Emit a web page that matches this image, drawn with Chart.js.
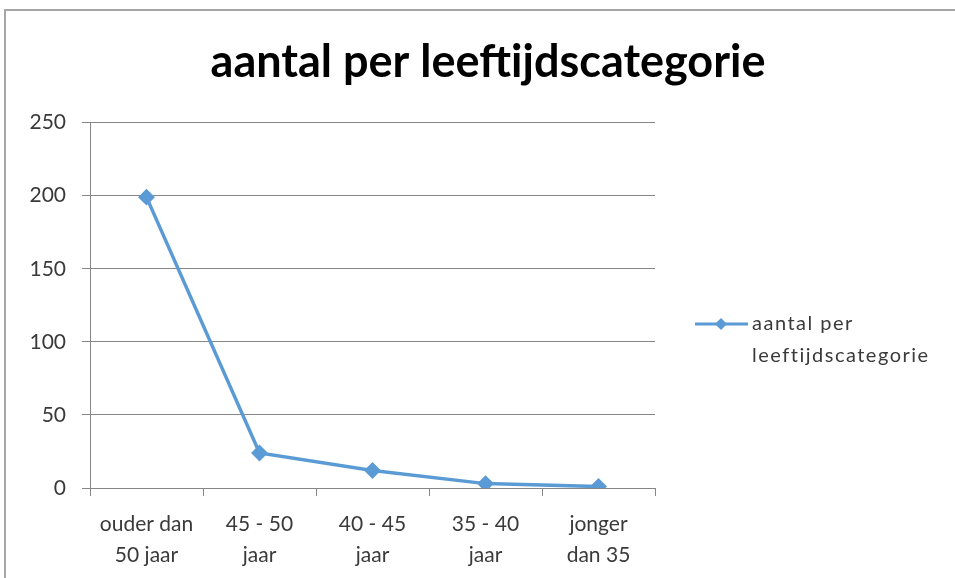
<!DOCTYPE html>
<html>
<head>
<meta charset="utf-8">
<script src="https://cdn.jsdelivr.net/npm/chart.js@4"></script>
<style>
  html, body { margin: 0; padding: 0; background: #fff; }
  #wrap { position: relative; width: 955px; height: 578px; }
  #frame { position: absolute; left: 4px; top: 9px; right: 0; bottom: 0;
           border-top: 2px solid #a6a6a6; border-left: 2px solid #a6a6a6; }
</style>
</head>
<body>
<div id="wrap">
  <div id="frame"></div>
  <canvas id="chart" width="955" height="578"></canvas>
</div>
<script>
// reference chart: line chart, Excel look
const categories = [
  ['ouder dan', '50 jaar'],
  ['45 - 50', 'jaar'],
  ['40 - 45', 'jaar'],
  ['35 - 40', 'jaar'],
  ['jonger', 'dan 35']
];
const seriesName = 'aantal per leeftijdscategorie';
const legendLines = ['aantal per', 'leeftijdscategorie'];
const values = [199, 24, 12, 3, 1];
const yTicks = [0, 50, 100, 150, 200, 250];

const FONT = 'Lato, "Open Sans", sans-serif';
const lineColor = '#5b9bd5';
const gridColor = '#868686';
const textColor = '#3a3a3a';

// title centred over the whole canvas (chart.js would centre it left of the legend space)
const wideTitle = {
  id: 'wideTitle',
  afterDraw(chart) {
    const ctx = chart.ctx;
    ctx.save();
    ctx.fillStyle = '#000';
    ctx.font = 'bold 45px ' + FONT;
    ctx.textAlign = 'center';
    ctx.textBaseline = 'middle';
    ctx.fillText(seriesName, 488, 62);
    ctx.restore();
  }
};

// legend drawn by hand since Chart.js can't wrap legend text
const sideLegend = {
  id: 'sideLegend',
  afterDraw(chart) {
    const ctx = chart.ctx;
    const y = 324;
    ctx.save();
    ctx.strokeStyle = lineColor;
    ctx.lineWidth = 3;
    ctx.beginPath();
    ctx.moveTo(695, y);
    ctx.lineTo(748, y);
    ctx.stroke();
    ctx.fillStyle = lineColor;
    ctx.beginPath();
    ctx.moveTo(721, y - 6);
    ctx.lineTo(727, y);
    ctx.lineTo(721, y + 6);
    ctx.lineTo(715, y);
    ctx.closePath();
    ctx.fill();
    ctx.fillStyle = textColor;
    ctx.font = '20px ' + FONT;
    ctx.letterSpacing = '1.5px';
    ctx.textBaseline = 'middle';
    legendLines.forEach((t, i) => ctx.fillText(t, 752, y + i * 32));
    ctx.restore();
  }
};

new Chart(document.getElementById('chart'), {
  type: 'line',
  data: {
    labels: categories,
    datasets: [{
      label: seriesName,
      data: values,
      borderColor: lineColor,
      backgroundColor: lineColor,
      borderWidth: 3.5,
      pointStyle: 'rectRot',
      pointRadius: 6,
      pointHoverRadius: 6,
      tension: 0
    }]
  },
  options: {
    responsive: false,
    animation: false,
    layout: { padding: { top: 30, right: 300, bottom: 0, left: 0 } },
    plugins: {
      legend: { display: false },
      tooltip: { enabled: false },
      title: {
        // reserves the space only; text is painted by wideTitle
        display: true,
        text: seriesName,
        color: 'rgba(0,0,0,0)',
        font: { family: FONT, size: 38, weight: 'bold', lineHeight: 1.2 },
        padding: { top: 9, bottom: 38 }
      }
    },
    scales: {
      x: {
        offset: true,
        grid: { offset: true, drawOnChartArea: false, drawTicks: true, tickLength: 8, color: gridColor },
        border: { color: gridColor, width: 1 },
        ticks: { color: textColor, font: { family: FONT, size: 21, lineHeight: 1.5 }, padding: 12, maxRotation: 0, autoSkip: false },
        afterFit(s) { s.height = 90; }
      },
      y: {
        min: 0,
        max: 250,
        afterBuildTicks(s) { s.ticks = yTicks.map(v => ({ value: v })); },
        grid: { color: gridColor, tickLength: 8 },
        border: { color: gridColor, width: 1 },
        ticks: { color: textColor, font: { family: FONT, size: 21 }, padding: 16 },
        afterFit(s) { s.width = 90; }
      }
    }
  },
  plugins: [sideLegend, wideTitle]
});
</script>
</body>
</html>
